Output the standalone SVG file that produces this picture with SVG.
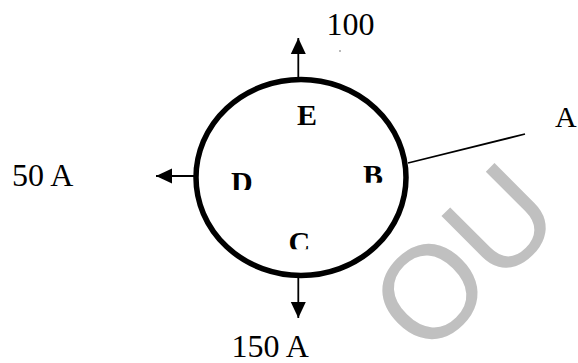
<svg xmlns="http://www.w3.org/2000/svg" width="578" height="363" viewBox="0 0 578 363">
  <style>
    .lbl { font-family: "Liberation Serif", "Times New Roman", serif; font-size: 32px; fill: #000; }
    .node { font-family: "Liberation Serif", "Times New Roman", serif; font-size: 30px; font-weight: bold; fill: #000; }
    .wm { font-family: "Liberation Sans", Arial, sans-serif; font-size: 132px; fill: #c0c0c0; }
    .wire { stroke: #000; stroke-width: 1.8; fill: none; }
  </style>
  <defs>
    <marker id="arrow" viewBox="0 0 16 16" refX="16" refY="8" markerWidth="16" markerHeight="16" markerUnits="userSpaceOnUse" orient="auto">
      <path d="M0,0.5 L16,8 L0,15.5 Z" fill="#000"/>
    </marker>
    <clipPath id="clipD"><rect x="220" y="160" width="50" height="30"/></clipPath>
    <clipPath id="clipB"><rect x="355" y="155" width="40" height="27.7"/></clipPath>
    <clipPath id="clipC"><rect x="280" y="220" width="40" height="29.3"/></clipPath>
  </defs>
  <rect width="578" height="363" fill="#fff"/>

  <g id="watermark">
    <text class="wm" transform="translate(426,360) rotate(-45)">OU</text>
  </g>

  <g id="connectors">
    <line class="wire" x1="298.3" y1="77" x2="298.3" y2="38" marker-end="url(#arrow)"/>
    <line class="wire" x1="196" y1="176" x2="156" y2="176" marker-end="url(#arrow)"/>
    <line class="wire" x1="298.3" y1="278" x2="298.3" y2="318" marker-end="url(#arrow)"/>
    <line class="wire" x1="408" y1="163" x2="525" y2="134"/>
  </g>

  <g id="junction">
    <ellipse cx="301" cy="177.5" rx="105" ry="98" fill="none" stroke="#000" stroke-width="5.5"/>
    <text class="node" x="297" y="125">E</text>
    <g clip-path="url(#clipD)"><text class="node" x="231" y="191.6">D</text></g>
    <g clip-path="url(#clipB)"><text class="node" x="363" y="185">B</text></g>
    <g clip-path="url(#clipC)"><text class="node" x="288.5" y="252">C</text></g>
  </g>

  <g id="labels">
    <text class="lbl" x="326.6" y="35">100</text>
    <circle cx="340" cy="51" r="0.7" fill="#444"/>
    <text class="lbl" x="12" y="185.7">50 A</text>
    <text class="lbl" x="231.5" y="357">150 A</text>
    <text class="lbl" x="555" y="127" style="font-size:30px">A</text>
  </g>
</svg>
